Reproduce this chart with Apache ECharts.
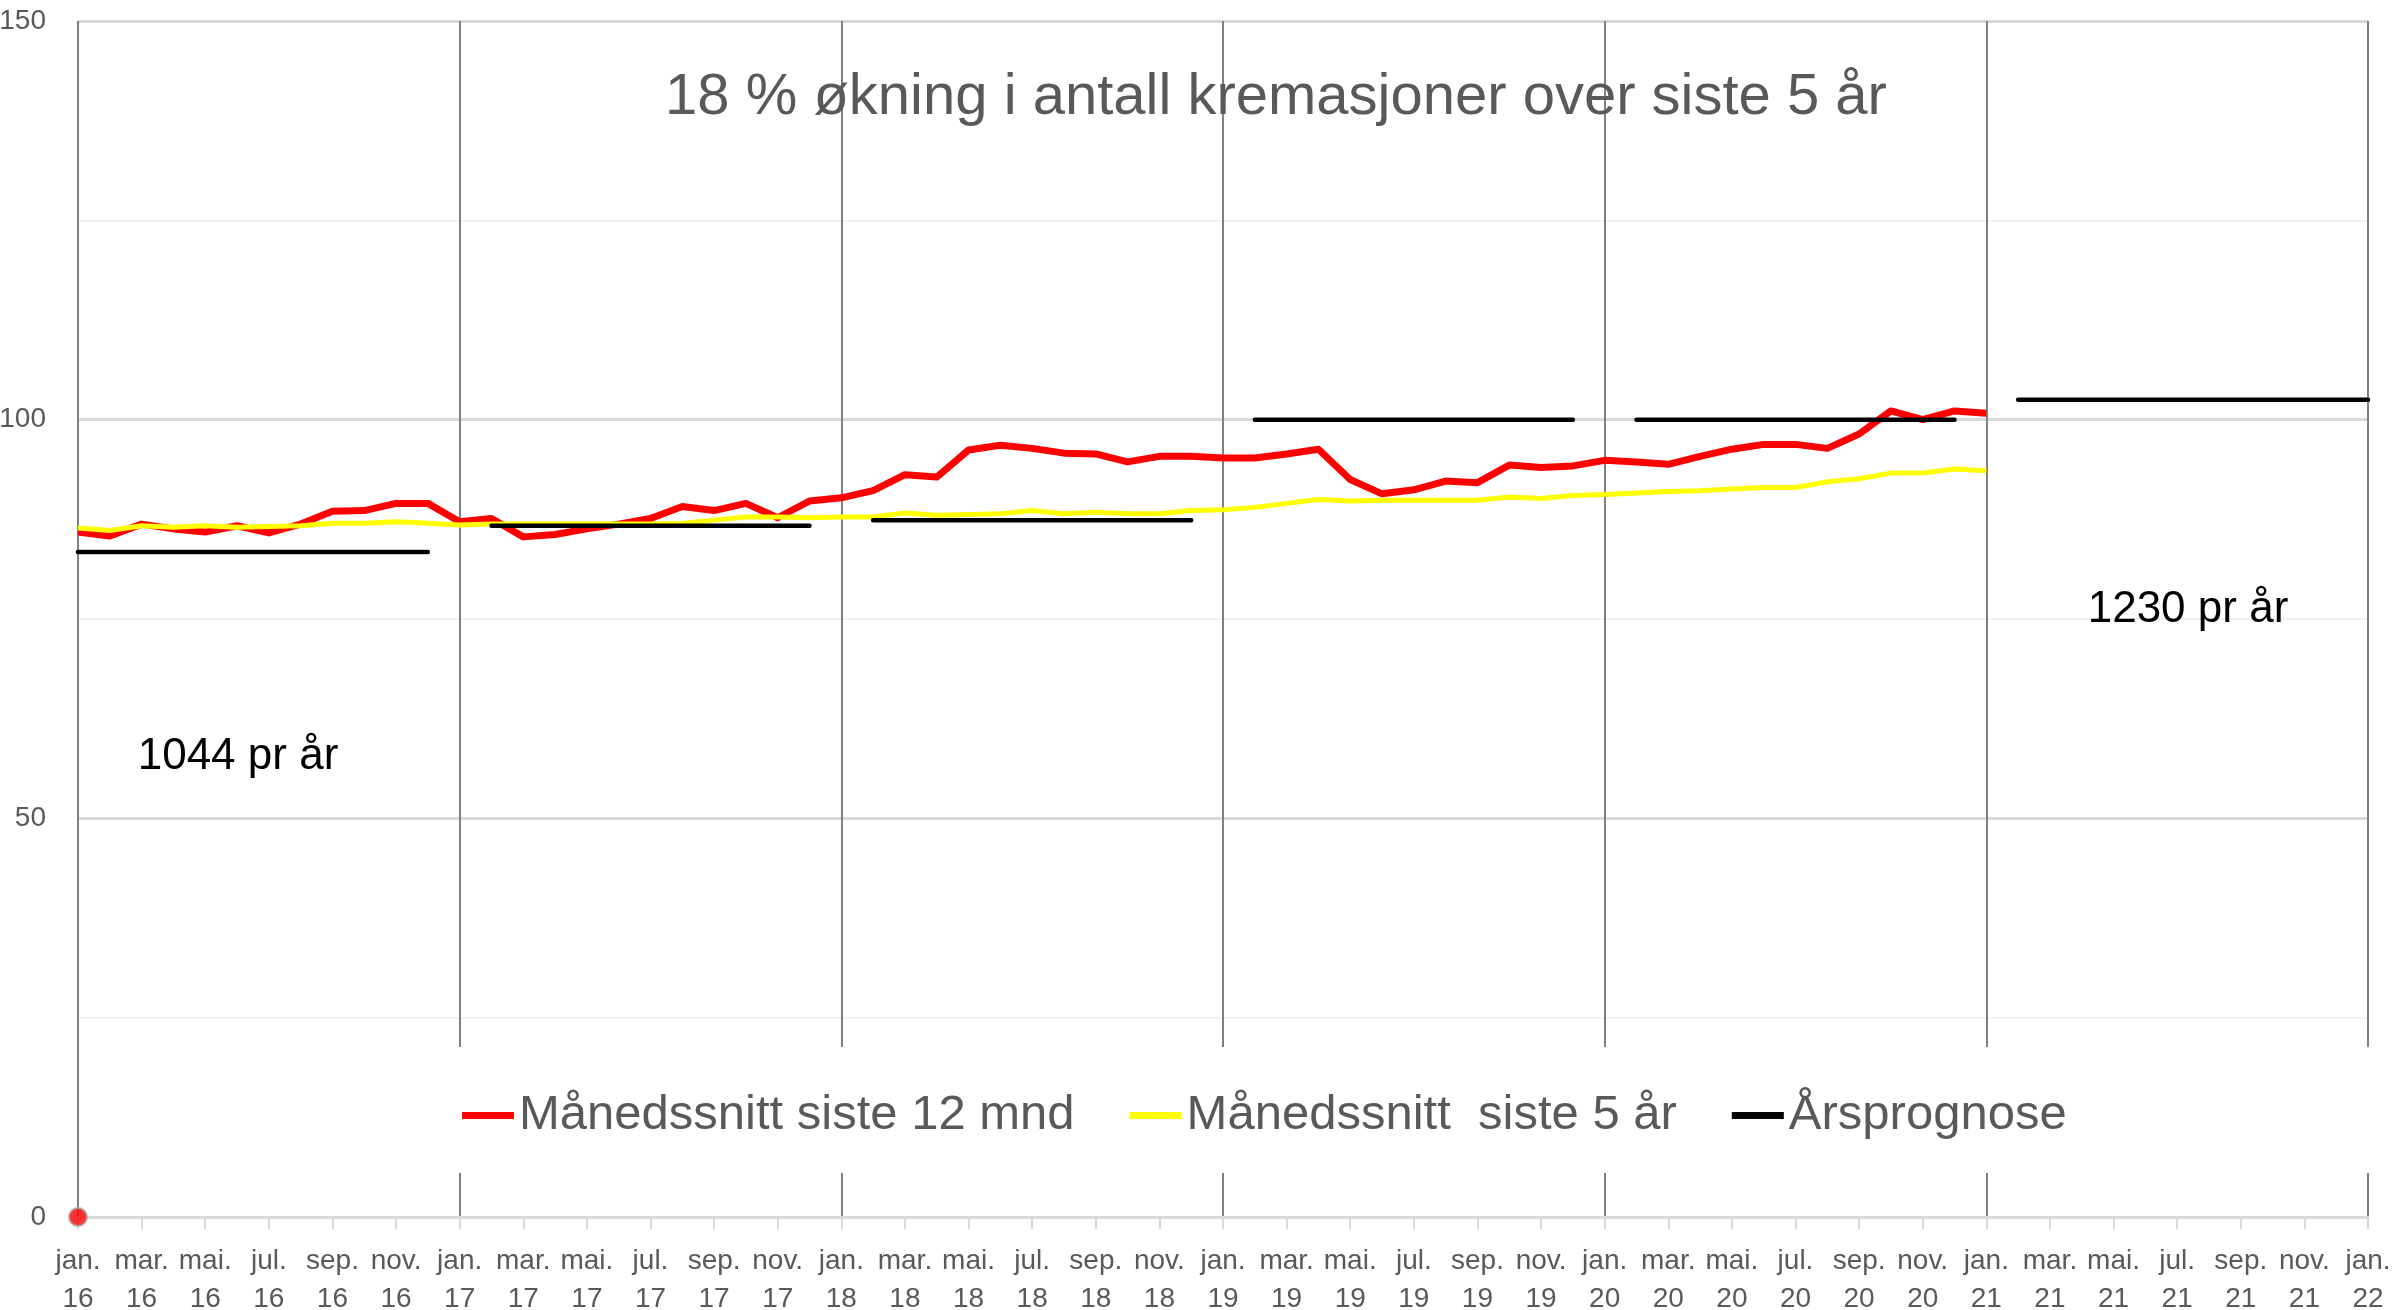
<!DOCTYPE html>
<html>
<head>
<meta charset="utf-8">
<script src="https://cdn.jsdelivr.net/npm/echarts/dist/echarts.min.js"></script>
<style>
  html, body { margin: 0; padding: 0; background: #fff; }
  #chart { width: 2397px; height: 1310px; }
</style>
</head>
<body>
<div id="chart"></div>
<script>
const FONT = '"Liberation Sans", Arial, sans-serif';

// tick labels
const monthNames = ['jan.', 'feb.', 'mar.', 'apr.', 'mai.', 'jun.', 'jul.', 'aug.', 'sep.', 'okt.', 'nov.', 'des.'];
const years = ['16', '17', '18', '19', '20', '21', '22'];
const categories = [];
years.forEach(function (y, yi) {
  monthNames.forEach(function (m, mi) {
    if (yi < years.length - 1 || mi === 0) categories.push(m + '\n' + y);
  });
});

// Månedssnitt siste 12 mnd (jan 16 - jan 21)
const snitt12 = [
  85.9, 85.4, 86.9, 86.3, 85.9, 86.7, 85.8, 86.9, 88.5, 88.6, 89.5, 89.5,
  87.2, 87.6, 85.3, 85.6, 86.3, 86.9, 87.6, 89.1, 88.6, 89.5, 87.7, 89.8,
  90.2, 91.1, 93.1, 92.8, 96.2, 96.8, 96.4, 95.8, 95.7, 94.7, 95.4, 95.4,
  95.2, 95.2, 95.7, 96.3, 92.5, 90.7, 91.2, 92.3, 92.1, 94.3, 94.0, 94.2,
  94.9, 94.7, 94.4, 95.4, 96.3, 96.9, 96.9, 96.4, 98.2, 101.1, 100.0, 101.1,
  100.8
];

// Månedssnitt siste 5 år
const snitt5 = [
  86.4, 86.1, 86.7, 86.5, 86.7, 86.5, 86.6, 86.7, 87.0, 87.0, 87.2, 87.0,
  86.8, 86.9, 86.9, 86.9, 86.9, 86.9, 86.9, 87.0, 87.4, 87.8, 87.8, 87.7,
  87.8, 87.8, 88.3, 88.0, 88.1, 88.2, 88.6, 88.2, 88.4, 88.2, 88.2, 88.6,
  88.7, 89.0, 89.5, 90.0, 89.8, 89.9, 89.9, 89.9, 89.9, 90.3, 90.1, 90.5,
  90.6, 90.8, 91.0, 91.1, 91.3, 91.5, 91.5, 92.2, 92.6, 93.3, 93.3, 93.8,
  93.6
];

// Årsprognose: one flat segment per year
const prognoseValue = [83.4, 86.7, 87.4, 100.0, 100.0, 102.5];
const prognoseFrom = [0, 13, 25, 37, 49, 61];
const prognoseTo = [11, 23, 35, 47, 59, 72];

// lone point at jan 16
const startPoint = [[0, 0]];

const prognose = categories.map(function () { return null; });
prognoseValue.forEach(function (v, k) {
  for (let i = prognoseFrom[k]; i <= prognoseTo[k]; i++) prognose[i] = v;
});

const names = ['Månedssnitt siste 12 mnd', 'Månedssnitt  siste 5 år', 'Årsprognose'];

const chart = echarts.init(document.getElementById('chart'));
chart.setOption({
  animation: false,
  backgroundColor: '#fff',
  textStyle: { fontFamily: FONT },
  grid: { left: 78, right: 29, top: 21, bottom: 93, containLabel: false, outerBoundsMode: 'none' },
  graphic: [
    {
      type: 'text', x: 1276, y: 98, z: 10,
      style: { text: '18 % økning i antall kremasjoner over siste 5 år', align: 'center', verticalAlign: 'middle',
        fontSize: 58, fontFamily: FONT, fill: '#595959' }
    },
    {
      type: 'text', x: 238, y: 757, z: 10,
      style: { text: '1044 pr år', align: 'center', verticalAlign: 'middle', fontSize: 44, fontFamily: FONT, fill: '#000' }
    },
    {
      type: 'text', x: 2188, y: 610, z: 10,
      style: { text: '1230 pr år', align: 'center', verticalAlign: 'middle', fontSize: 44, fontFamily: FONT, fill: '#000' }
    }
  ],
  legend: {
    data: names,
    selectedMode: false,
    left: 80,
    top: 1047,
    padding: [44, 305, 33, 382],
    backgroundColor: '#fff',
    icon: 'rect',
    itemWidth: 52,
    itemHeight: 7,
    itemGap: 55,
    textStyle: { fontSize: 49, color: '#595959', fontFamily: FONT }
  },
  xAxis: {
    type: 'category',
    data: categories,
    boundaryGap: false,
    axisLine: { lineStyle: { color: '#d9d9d9', width: 3 } },
    axisTick: { interval: 1, length: 12, lineStyle: { color: '#d9d9d9', width: 2 } },
    axisLabel: { interval: 1, fontSize: 28, lineHeight: 38, color: '#595959', margin: 25, fontFamily: FONT },
    splitLine: {
      show: true,
      interval: function (i) { return i % 12 === 0; },
      lineStyle: { color: '#808080', width: 2 }
    }
  },
  yAxis: {
    type: 'value',
    min: 0,
    max: 150,
    interval: 50,
    axisLine: { show: false },
    axisTick: { show: false },
    axisLabel: { fontSize: 28, color: '#595959', margin: 32, fontFamily: FONT },
    splitLine: { lineStyle: { color: '#d9d9d9', width: 3 } },
    minorTick: { show: false, splitNumber: 2 },
    minorSplitLine: { show: true, lineStyle: { color: '#f2f2f2', width: 2 } }
  },
  series: [
    {
      name: names[0], type: 'line', data: snitt12, symbol: 'none', color: '#ff0000',
      lineStyle: { width: 7, color: '#ff0000', join: 'round' }
    },
    {
      name: names[1], type: 'line', data: snitt5, symbol: 'none', color: '#ffff00',
      lineStyle: { width: 5, color: '#ffff00', join: 'round' }
    },
    {
      name: names[2], type: 'line', data: prognose, symbol: 'none', color: '#000000', connectNulls: false,
      lineStyle: { width: 4.5, color: '#000000', cap: 'round' }
    },
    {
      name: 'start', type: 'scatter', data: startPoint, symbolSize: 18,
      itemStyle: { color: '#ff0000', borderColor: '#a6a6a6', borderWidth: 2 }
    }
  ]
});
</script>
</body>
</html>
